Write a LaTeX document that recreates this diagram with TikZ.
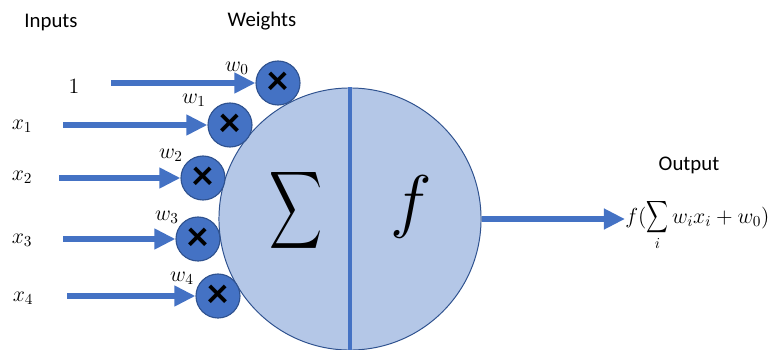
\documentclass[tikz,border=0pt]{standalone}
\usepackage{fix-cm}
\usepackage{exscale}
\usepackage{amsmath}
\usepackage{graphicx}
\usepackage{fontspec}
\setsansfont{Carlito}
\usetikzlibrary{arrows.meta,positioning}

\definecolor{sigblue}{HTML}{4472C4}
\definecolor{rimblue}{HTML}{2F528F}
\definecolor{bodyblue}{HTML}{B4C7E7}

\begin{document}
\begin{tikzpicture}[
  x=0.025cm, y=-0.025cm,
  hdr/.style={font=\sffamily\fontsize{14.8}{17}\selectfont},
  lbl/.style={font=\fontsize{15.5}{18}\selectfont, inner sep=1pt},
  mult/.style={circle, draw=rimblue, line width=0.8pt, fill=sigblue,
               minimum size=1.1cm, inner sep=0pt,
               font=\sffamily\bfseries\fontsize{30}{30}\selectfont},
  body/.style={circle, draw=rimblue, line width=0.7pt, fill=bodyblue,
               minimum size=6.55cm, inner sep=0pt},
  sig/.style={-{Triangle[length=15pt, width=14pt]}, line width=4.3pt, draw=sigblue}
]
\useasboundingbox (0,0) rectangle (776,349);

% ---------------- column heads ----------------
\node[hdr] (inputs) at (51,22) {Inputs};
\node[hdr] (weights) at (262,21) {Weights};
\node[hdr] (output) at (689,165) {Output};

% ---------------- neuron body ----------------
\node[body] (neuron) at (350,219) {};
\draw[line width=2.9pt, sigblue] (neuron.north) -- (neuron.south);
\node (sumsym) at (296,210)
  {\scalebox{1.05}[1.55]{\fontsize{36}{40}\selectfont$\displaystyle\sum$}};
\node (actfn) at (411,207) {\fontsize{50}{54}\selectfont$f$};

% ---------------- inputs ----------------
\node[lbl] (one) at (74,86) {$1$};
\node[lbl] (x1) at (22,126) {$x_1$};
\node[lbl] (x2) at (22,177) {$x_2$};
\node[lbl] (x3) at (22,240) {$x_3$};
\node[lbl] (x4) at (23,298) {$x_4$};

% ---------------- weights ----------------
\node[mult] (m0) at (278,83) {×};
\node[mult] (m1) at (230,125) {×};
\node[mult] (m2) at (203,178) {×};
\node[mult] (m3) at (198,239) {×};
\node[mult] (m4) at (218,296) {×};

\node[lbl] (w0) at (237,68) {$w_0$};
\node[lbl] (w1) at (194,100) {$w_1$};
\node[lbl] (w2) at (171,155) {$w_2$};
\node[lbl] (w3) at (167,217) {$w_3$};
\node[lbl] (w4) at (182,278) {$w_4$};

% ---------------- signal arrows ----------------
\coordinate (s0) at (111,83);
\coordinate (s1) at (63,125);
\coordinate (s2) at (59,178);
\coordinate (s3) at (63,239);
\coordinate (s4) at (67,296);
\draw[sig] (s0) -- (m0.west);
\draw[sig] (s1) -- (m1.west);
\draw[sig] (s2) -- (m2.west);
\draw[sig] (s3) -- (m3.west);
\draw[sig] (s4) -- (m4.west);

% ---------------- output ----------------
\node[lbl, font=\fontsize{15.5}{18}\selectfont, anchor=base west, inner sep=0pt] (out) at (625,223)
  {$f(\mathop{\scalebox{0.75}[1.1]{$\displaystyle\sum$}}\limits_{i} w_i x_i + w_0)$};
\draw[sig] (neuron.east) -- (neuron.east -| out.west);

\end{tikzpicture}
\end{document}
